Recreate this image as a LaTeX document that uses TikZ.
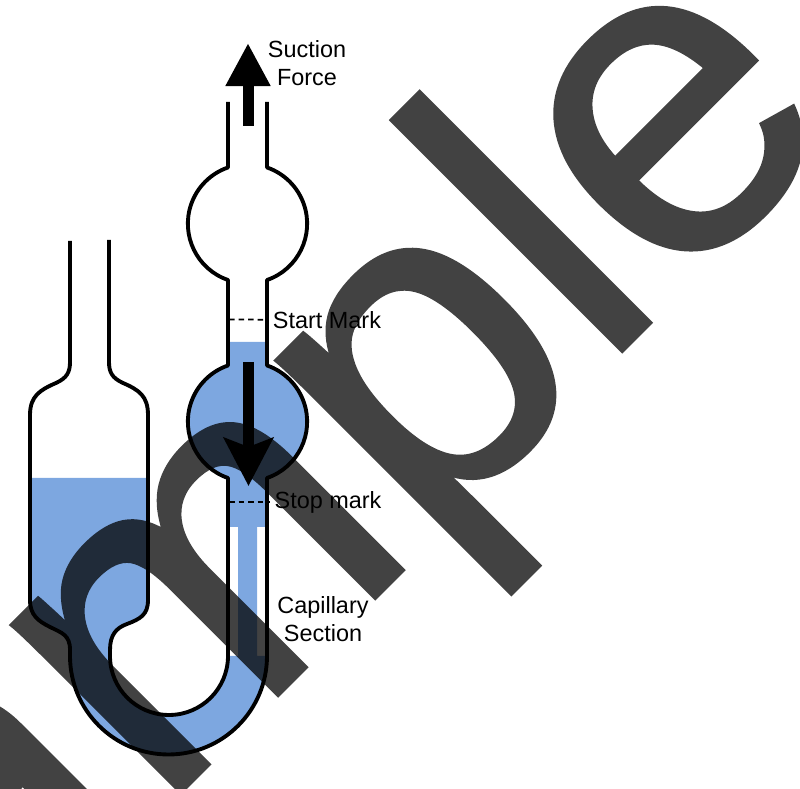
\documentclass[tikz,border=0pt]{standalone}
\usepackage{fontspec}
\setmainfont{Liberation Sans}
\newfontfamily\stampfont[FakeBold=0.9]{Liberation Sans}
\usetikzlibrary{arrows.meta}
\definecolor{liquidblue}{HTML}{7DA7E0}
\tikzset{
  glass/.style={line width=1.1pt,line join=round},
  markline/.style={line width=0.5pt,dash pattern=on 0.55mm off 0.4mm},
  flowarrow/.style={line width=0.11cm},
  label/.style={font=\fontsize{6.66}{8}\selectfont,align=center,inner sep=1pt},
  stamp/.style={font=\stampfont\fontsize{128}{128}\selectfont,rotate=45,anchor=base west,inner sep=0pt,text=black}
}
\begin{document}
\begin{tikzpicture}[x=0.01cm,y=-0.01cm]
  \useasboundingbox (0,0) rectangle (800,789);
  % liquid, left body through the U to the lower bulb
  \fill[liquidblue] (30,478) -- (148,478) -- (148,600)
    .. controls (148,615) and (140,619) .. (127,624)
    .. controls (116,628) and (110,635) .. (110,650)
    -- (110,656) arc (180:0:59) -- (238,656) -- (238,527) -- (228,527)
    -- (228,478) arc (109:251:59.5) -- (228,342) -- (267,342)
    -- (267,366) arc (-71:71:59.5) -- (267,527) -- (257,527) -- (257,656) -- (267,656)
    arc (0:180:98.5) -- (70,650)
    .. controls (70,635) and (62,633) .. (50,627)
    .. controls (38,621) and (30,615) .. (30,600) -- cycle;
  % outer wall
  \draw[glass] (70,241) -- (70,362)
    .. controls (70,372) and (67,378) .. (56,383)
    .. controls (40,390) and (30,396) .. (30,415) -- (30,600)
    .. controls (30,615) and (38,621) .. (50,627)
    .. controls (62,633) and (70,635) .. (70,650)
    -- (70,656) arc (180:0:98.5) -- (267,478)
    arc (71:-71:59.5) -- (267,280)
    arc (71:-71:59.5) -- (267,102);
  % inner wall
  \draw[glass] (109,240) -- (109,362)
    .. controls (109,372) and (112,378) .. (123,383)
    .. controls (139,390) and (148,396) .. (148,415) -- (148,600)
    .. controls (148,615) and (140,619) .. (127,624)
    .. controls (116,628) and (110,635) .. (110,650)
    -- (110,656) arc (180:0:59) -- (228,478)
    arc (109:251:59.5) -- (228,280)
    arc (109:251:59.5) -- (228,102);
  % labels
  \node[label] (suction) at (307,63) {Suction\\Force};
  \node[label] (startmark) at (327,320) {Start Mark};
  \node[label] (stopmark) at (328,502) {Stop mark};
  \node[label] (capillary) at (323,619) {Capillary\\Section};
  % marks on the tube
  \coordinate (startpt) at (229,319.5);
  \coordinate (stoppt) at (229,502);
  \draw[markline] (startpt) -- (startmark);
  \draw[markline] (stoppt) -- (stopmark);
  % suction and flow
  \coordinate (upfrom) at (248,126);
  \coordinate (upto) at (248,43);
  \coordinate (downfrom) at (248.5,362);
  \coordinate (downto) at (248.5,486);
  \draw[flowarrow,-{Triangle[length=0.43cm,width=0.42cm]}] (upfrom) -- (upto);
  \draw[flowarrow,-{Stealth[length=0.48cm,width=0.49cm,inset=0.09cm]}] (downfrom) -- (downto);
  % watermark on top of everything
  \begin{scope}[transparency group,opacity=0.74]
    \node[stamp] (watermark) at (-231,1204) {Sample};
  \end{scope}
\end{tikzpicture}
\end{document}
